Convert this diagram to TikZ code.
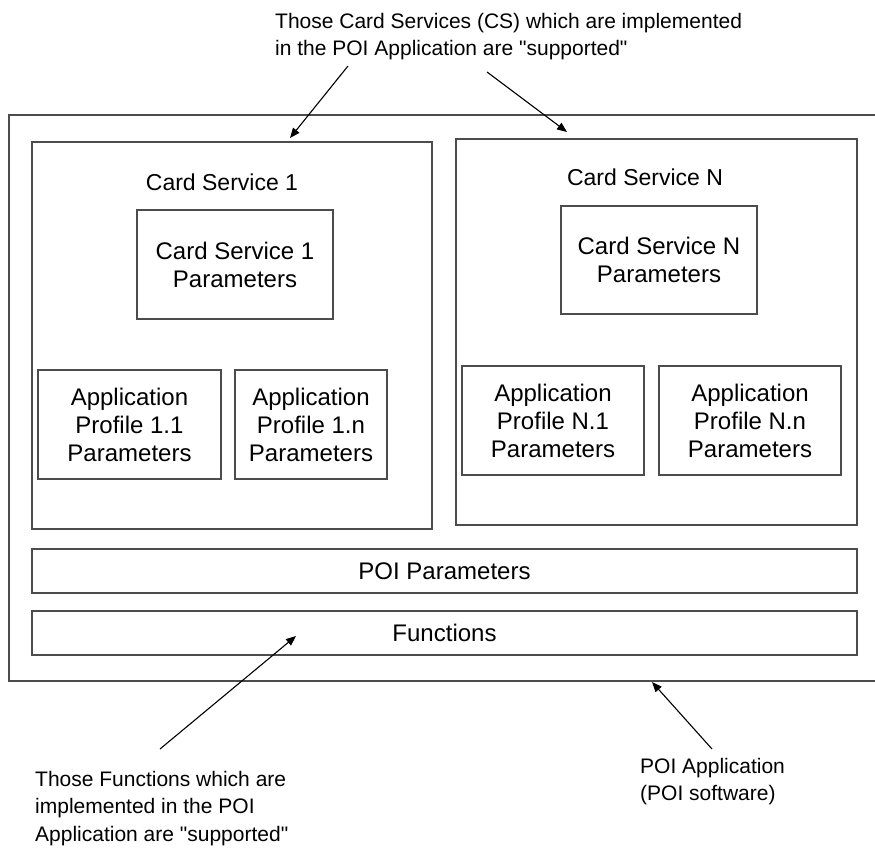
\documentclass[tikz,border=0pt]{standalone}
\usepackage{fontspec}
\setmainfont{Liberation Sans}
\usetikzlibrary{arrows.meta}
\tikzset{
box/.style={draw=black!70, line width=1.3pt, rectangle, inner sep=0pt, align=center, font=\fontsize{24}{28}\selectfont},
cstitle/.style={anchor=base, inner sep=0pt, font=\fontsize{23}{28}\selectfont},
note/.style={inner sep=0pt, align=left, anchor=north west},
pointer/.style={draw=black, line width=1.1pt, -{Triangle[length=10pt,width=8pt]}}
}

\begin{document}
\begin{tikzpicture}[x=1pt, y=-1pt, font=\fontsize{21}{27.5}\selectfont]
\useasboundingbox (0,0) rectangle (875,851);
\clip (0,0) rectangle (875,851);
\node[box, minimum width=881pt, minimum height=566pt] (app) at (449.5,398) {};
\node[box, minimum width=400pt, minimum height=387pt] (cs1) at (232,335.5) {};
\node[box, minimum width=401pt, minimum height=386pt] (csn) at (656.5,332) {};
\node[cstitle] (cs1title) at (222,190) {Card Service 1};
\node[cstitle] (csntitle) at (645,185) {Card Service N};
\node[box, minimum width=196pt, minimum height=109pt] (cs1par) at (235,264.5) {Card Service 1\\Parameters};
\node[box, minimum width=196pt, minimum height=108pt] (csnpar) at (659,260) {Card Service N\\Parameters};
\node[box, minimum width=183pt, minimum height=109pt] (ap11) at (129.5,424.5) {Application\\Profile 1.1\\Parameters};
\node[box, minimum width=152pt, minimum height=109pt] (ap1n) at (311,424.5) {Application\\Profile 1.n\\Parameters};
\node[box, minimum width=182pt, minimum height=109pt] (apn1) at (553,420.5) {Application\\Profile N.1\\Parameters};
\node[box, minimum width=182pt, minimum height=109pt] (apnn) at (750,420.5) {Application\\Profile N.n\\Parameters};
\node[box, minimum width=825pt, minimum height=44pt] (poipar) at (444.5,571) {POI Parameters};
\node[box, minimum width=825pt, minimum height=44pt] (func) at (444.5,633) {Functions};
\node[note] (csnote) at (275,13) {Those Card Services (CS) which are implemented\\in the POI Application are \textquotedbl supported\textquotedbl};
\node[note] (funcnote) at (35,771) {Those Functions which are\\implemented in the POI\\Application are \textquotedbl supported\textquotedbl};
\node[note] (appnote) at (640,758) {POI Application\\(POI software)};
\coordinate (a1) at (348,66);
\coordinate (a1tip) at (290,138);
\coordinate (a2) at (487,72);
\coordinate (a2tip) at (567,132);
\coordinate (a3) at (160,749);
\coordinate (a3tip) at (296,636);
\coordinate (a4) at (712,749);
\coordinate (a4tip) at (652,682);
\draw[pointer] (a1) -- (a1tip);
\draw[pointer] (a2) -- (a2tip);
\draw[pointer] (a3) -- (a3tip);
\draw[pointer] (a4) -- (a4tip);
\end{tikzpicture}
\end{document}
